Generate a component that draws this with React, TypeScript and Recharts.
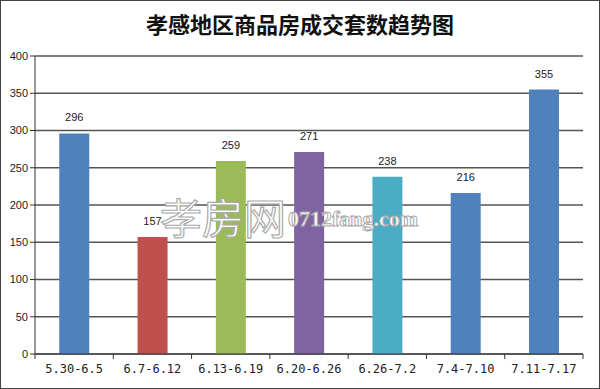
import React from 'react';
import { BarChart, Bar, XAxis, YAxis, CartesianGrid, Cell, LabelList } from 'recharts';

const categories = ['5.30-6.5', '6.7-6.12', '6.13-6.19', '6.20-6.26', '6.26-7.2', '7.4-7.10', '7.11-7.17'];
const values = [296, 157, 259, 271, 238, 216, 355];
const colors = ['#4F81BD', '#C0504D', '#9BBB59', '#8064A2', '#4BACC6', '#4F81BD', '#4F81BD'];
const yTicks = [0, 50, 100, 150, 200, 250, 300, 350, 400];
const title = '孝感地区商品房成交套数趋势图';

const data = categories.map((c, i) => ({ name: c, value: values[i] }));

const XTick = (props: any) => {
  const { x, y, payload, index } = props;
  const off = payload.offset || 0;
  return (
    <g>
      <line x1={x - off} y1={y - 8} x2={x - off} y2={y - 3} stroke="#333" />
      {index === categories.length - 1 && (
        <line x1={x + off} y1={y - 8} x2={x + off} y2={y - 3} stroke="#333" />
      )}
      <text x={x} y={y + 11} textAnchor="middle" fontSize={12} fill="#222" fontFamily="'DejaVu Sans Mono', monospace">
        {payload.value}
      </text>
    </g>
  );
};

export default function App() {
  return (
    <div style={{ position: 'absolute', left: 0, top: 0, width: 600, height: 389, background: '#fff', boxSizing: 'border-box', border: '1px solid #444' }}>
      <div style={{ position: 'absolute', left: 0, top: 6, width: 598, textAlign: 'center', fontFamily: "'Noto Sans CJK SC', sans-serif", fontWeight: 700, fontSize: 22, color: '#111' }}>
        {title}
      </div>
      <div style={{ position: 'absolute', left: -1, top: -1 }}>
        <BarChart width={600} height={389} data={data} margin={{ top: 56, right: 17, bottom: 7, left: 0 }} barCategoryGap="31%">
          <CartesianGrid vertical={false} stroke="#555" strokeWidth={1.3} />
          <XAxis dataKey="name" height={28} tickLine={false} axisLine={{ stroke: '#333' }} tick={<XTick />} interval={0} />
          <YAxis domain={[0, 400]} ticks={yTicks} width={35} axisLine={{ stroke: '#333' }} tickLine={{ stroke: '#333' }} tickSize={5}
            tick={{ fontSize: 11, fill: '#222', fontFamily: "'Liberation Sans', Arial, sans-serif" }} interval={0} />
          <Bar dataKey="value" isAnimationActive={false}>
            {data.map((d, i) => (
              <Cell key={d.name} fill={colors[i]} />
            ))}
            <LabelList dataKey="value" position="top" offset={12} fontSize={11} fill="#222" fontFamily="'Liberation Sans', Arial, sans-serif" />
          </Bar>
        </BarChart>
      </div>
      <svg width={600} height={389} style={{ position: 'absolute', left: -1, top: -1, pointerEvents: 'none' }}>
        <text x={160} y={234} fontSize={42} fontFamily="'Noto Sans CJK SC', sans-serif" fill="#fff" stroke="#aaa" strokeWidth={1.2}>孝房网</text>
        <text x={288} y={226} fontSize={22} fontFamily="'Liberation Serif', serif" fontWeight={700} fill="#fff" stroke="#aaa" strokeWidth={1}>0712fang.com</text>
      </svg>
    </div>
  );
}
